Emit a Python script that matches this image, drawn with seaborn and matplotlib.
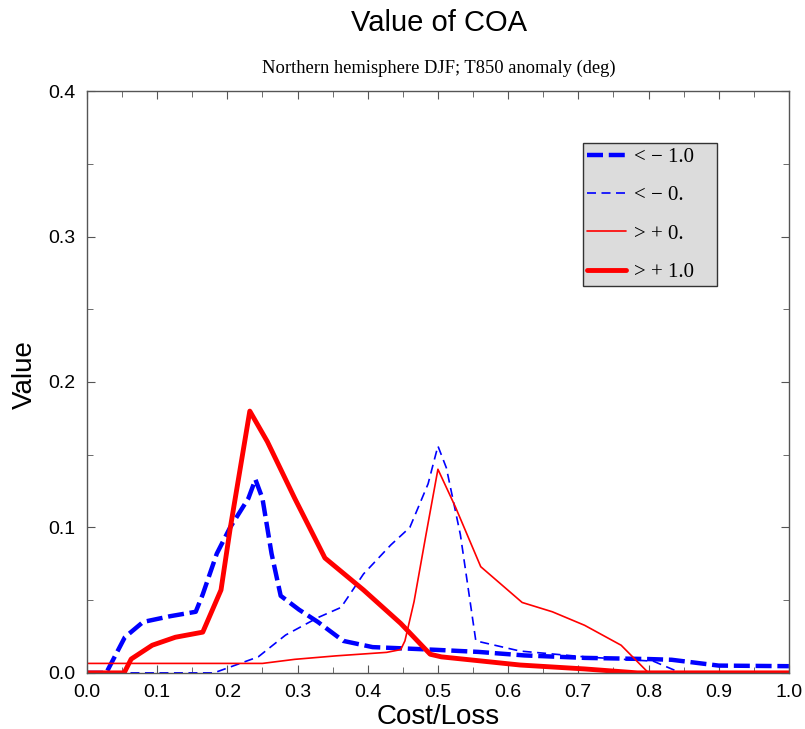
import pandas as pd
import numpy as np
import seaborn as sns
import matplotlib.pyplot as plt
from matplotlib.ticker import MultipleLocator

# data (Cost/Loss vs Value)
x_neg10 = [0.0, 0.0275, 0.054, 0.08, 0.119, 0.155, 0.165, 0.185, 0.204, 0.23, 0.24, 0.25, 0.263, 0.276,
           0.302, 0.329, 0.365, 0.407, 0.447, 0.499, 0.558, 0.623, 0.709, 0.8, 0.833, 0.9, 1.0]
y_neg10 = [0.0, 0.0, 0.0245, 0.035, 0.039, 0.042, 0.054, 0.082, 0.1, 0.12, 0.133, 0.12, 0.082, 0.053,
           0.0435, 0.035, 0.022, 0.0177, 0.0169, 0.0158, 0.0144, 0.012, 0.0103, 0.0095, 0.009, 0.005, 0.0046]

x_neg0 = [0.0, 0.181, 0.244, 0.283, 0.329, 0.362, 0.394, 0.433, 0.46, 0.486, 0.5, 0.512, 0.532, 0.554,
          0.617, 0.709, 0.807, 0.846, 1.0]
y_neg0 = [0.0, 0.0, 0.011, 0.026, 0.038, 0.045, 0.068, 0.088, 0.1, 0.13, 0.156, 0.141, 0.095, 0.022,
          0.015, 0.011, 0.008, 0.0, 0.0]

x_pos0 = [0.0, 0.25, 0.296, 0.355, 0.427, 0.447, 0.453, 0.466, 0.483, 0.5, 0.525, 0.561, 0.62, 0.663,
          0.709, 0.761, 0.8, 1.0]
y_pos0 = [0.0065, 0.0065, 0.0093, 0.0117, 0.0141, 0.016, 0.022, 0.049, 0.095, 0.14, 0.114, 0.073, 0.0484,
          0.042, 0.0327, 0.019, 0.0, 0.0]

x_pos10 = [0.0, 0.053, 0.063, 0.093, 0.126, 0.165, 0.191, 0.204, 0.232, 0.257, 0.296, 0.339, 0.394,
           0.447, 0.489, 0.505, 0.617, 0.709, 0.784, 1.0]
y_pos10 = [0.0, 0.0, 0.0095, 0.019, 0.0245, 0.028, 0.057, 0.099, 0.18, 0.159, 0.12, 0.079, 0.057,
           0.034, 0.0128, 0.011, 0.0054, 0.0027, 0.0, 0.0]

labels = ["< \u2212 1.0", "< \u2212 0.", "> + 0.", "> + 1.0"]

sns.set_style("ticks")
plt.rcParams['font.family'] = ['Liberation Sans', 'DejaVu Sans']
plt.rcParams['text.color'] = 'black'
plt.rcParams['axes.labelcolor'] = 'black'

fig = plt.figure(figsize=(8.05, 7.29), dpi=100)
ax = fig.add_axes([0.108, 0.077, 0.872, 0.798])

sns.lineplot(x=x_neg10, y=y_neg10, ax=ax, color="#0000ff", linewidth=3.2,
             label=labels[0]).lines[-1].set_dashes([3.6, 1.3])
sns.lineplot(x=x_neg0, y=y_neg0, ax=ax, color="#0000ff", linewidth=1.2,
             label=labels[1]).lines[-1].set_dashes([5.4, 3.3])
sns.lineplot(x=x_pos0, y=y_pos0, ax=ax, color="#ff0000", linewidth=1.2, label=labels[2])
sns.lineplot(x=x_pos10, y=y_pos10, ax=ax, color="#ff0000", linewidth=3.5, label=labels[3])

ax.set_xlim(0, 1.0)
ax.set_ylim(0, 0.4)
ax.xaxis.set_major_locator(MultipleLocator(0.1))
ax.xaxis.set_minor_locator(MultipleLocator(0.05))
ax.yaxis.set_major_locator(MultipleLocator(0.1))
ax.yaxis.set_minor_locator(MultipleLocator(0.05))
ax.tick_params(which='both', direction='in', top=True, right=True, color='#555555', labelcolor='black')
ax.tick_params(which='major', length=6, labelsize=14, pad=8)
ax.tick_params(which='minor', length=4)
for s in ax.spines.values():
    s.set_color('#555555')
    s.set_linewidth(1.0)

ax.set_xlabel("Cost/Loss", fontsize=20, labelpad=2)
ax.set_ylabel("Value", fontsize=20, labelpad=8)
ax.yaxis.label.set_y(0.512)

fig.text(0.545, 0.968, "Value of COA", ha='center', va='center', fontsize=21)
fig.text(0.545, 0.906, "Northern hemisphere DJF; T850 anomaly (deg)", ha='center', va='center',
         fontsize=13.3, family=['Liberation Serif', 'DejaVu Serif'])

leg = ax.legend(loc='upper left', bbox_to_anchor=(0.707, 0.67, 0.191, 0.2405), mode='expand',
                borderaxespad=0, fancybox=False, framealpha=1, facecolor='#dcdcdc', edgecolor='#333333',
                prop={'family': ['Liberation Serif', 'DejaVu Serif'], 'size': 15},
                handlelength=1.85, labelspacing=0.9, borderpad=0.2, handletextpad=0.4)
leg.get_frame().set_linewidth(1.0)

fig.savefig("out.png", dpi=100)
